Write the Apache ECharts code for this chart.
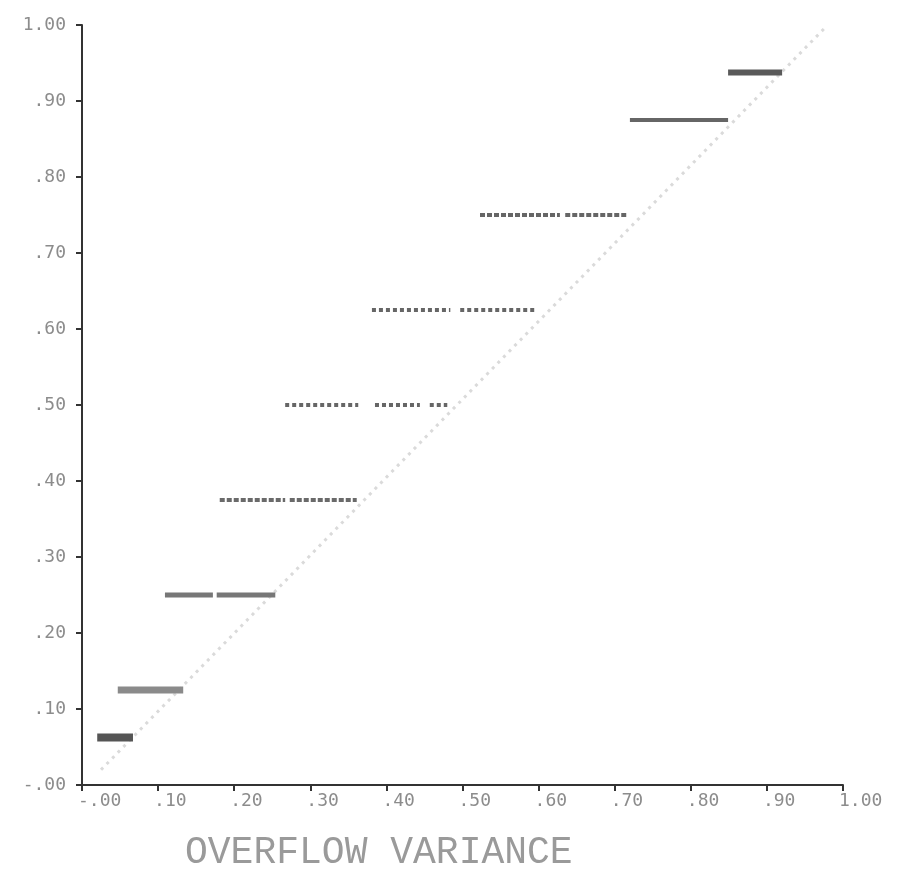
<!DOCTYPE html>
<html>
<head>
<meta charset="utf-8">
<script src="https://cdn.jsdelivr.net/npm/echarts@6/dist/echarts.min.js"></script>
<style>html,body{margin:0;padding:0;background:#fff}#c{width:899px;height:876px}</style>
</head>
<body>
<div id="c"></div>
<script>
// Values
const xTickLabels = ['-.00', '.10', '.20', '.30', '.40', '.50', '.60', '.70', '.80', '.90', '1.00'];
const yTickLabels = ['-.00', '.10', '.20', '.30', '.40', '.50', '.60', '.70', '.80', '.90', '1.00'];
const bandLevels = [0.0625, 0.125, 0.25, 0.375, 0.5, 0.625, 0.75, 0.875, 0.9375];
const bandSegments = [
  [[0.020, 0.067]],
  [[0.047, 0.133]],
  [[0.109, 0.172], [0.177, 0.254]],
  [[0.181, 0.267], [0.273, 0.361]],
  [[0.267, 0.363], [0.385, 0.444], [0.457, 0.480]],
  [[0.381, 0.484], [0.497, 0.595]],
  [[0.523, 0.628], [0.635, 0.717]],
  [[0.720, 0.849]],
  [[0.849, 0.920]]
];
const diagX = [0.025, 0.975];
const diagY = [0.020, 0.995];
const xTitle = 'OVERFLOW VARIANCE';

const bandWidths = [8, 7, 5, 4, 4, 4, 4, 4, 6];
const bandColors = ['#555', '#8a8a8a', '#777', '#6a6a6a', '#666', '#666', '#666', '#666', '#5a5a5a'];
const bandDash = ['solid', 'solid', 'solid', [5, 2], [4, 3], [4, 3], [5, 2], 'solid', 'solid'];

const series = [];
series.push({
  type: 'line', silent: true, symbol: 'none',
  data: diagX.map((x, i) => [x, diagY[i]]),
  lineStyle: { color: '#dadada', width: 3, type: [3, 5] },
  z: 1
});
bandLevels.forEach((y, i) => {
  const d = [];
  bandSegments[i].forEach((s, k) => {
    if (k > 0) d.push(null);
    d.push([s[0], y], [s[1], y]);
  });
  series.push({
    type: 'line', silent: true, symbol: 'none', connectNulls: false,
    data: d.map(p => p === null ? '-' : p),
    lineStyle: { color: bandColors[i], width: bandWidths[i], type: bandDash[i], cap: 'butt' },
    z: 3
  });
});

const labelStyle = { color: '#8c8c8c', fontSize: 18, fontFamily: 'DejaVu Sans Mono' };
const chart = echarts.init(document.getElementById('c'));
chart.setOption({
  animation: false,
  backgroundColor: '#fff',
  grid: { left: 82, right: 56, top: 25, bottom: 91 },
  xAxis: {
    type: 'value', min: 0, max: 1, interval: 0.1,
    splitLine: { show: false },
    axisLine: { lineStyle: { color: '#333', width: 2 } },
    axisTick: { inside: false, length: 6, lineStyle: { color: '#333', width: 2 } },
    axisLabel: Object.assign({
      margin: 7, align: 'left', padding: [0, 0, 0, -4],
      formatter: v => xTickLabels[Math.round(v * 10)]
    }, labelStyle)
  },
  yAxis: {
    type: 'value', min: 0, max: 1, interval: 0.1,
    splitLine: { show: false },
    axisLine: { lineStyle: { color: '#333', width: 2 } },
    axisTick: { inside: false, length: 6, lineStyle: { color: '#333', width: 2 } },
    axisLabel: Object.assign({
      margin: 16,
      formatter: v => yTickLabels[Math.round(v * 10)]
    }, labelStyle)
  },
  graphic: [{
    type: 'text', left: 185, top: 834,
    style: { text: xTitle, fill: '#9a9a9a', font: '38px "Liberation Mono"' }
  }],
  series: series
});
</script>
</body>
</html>
